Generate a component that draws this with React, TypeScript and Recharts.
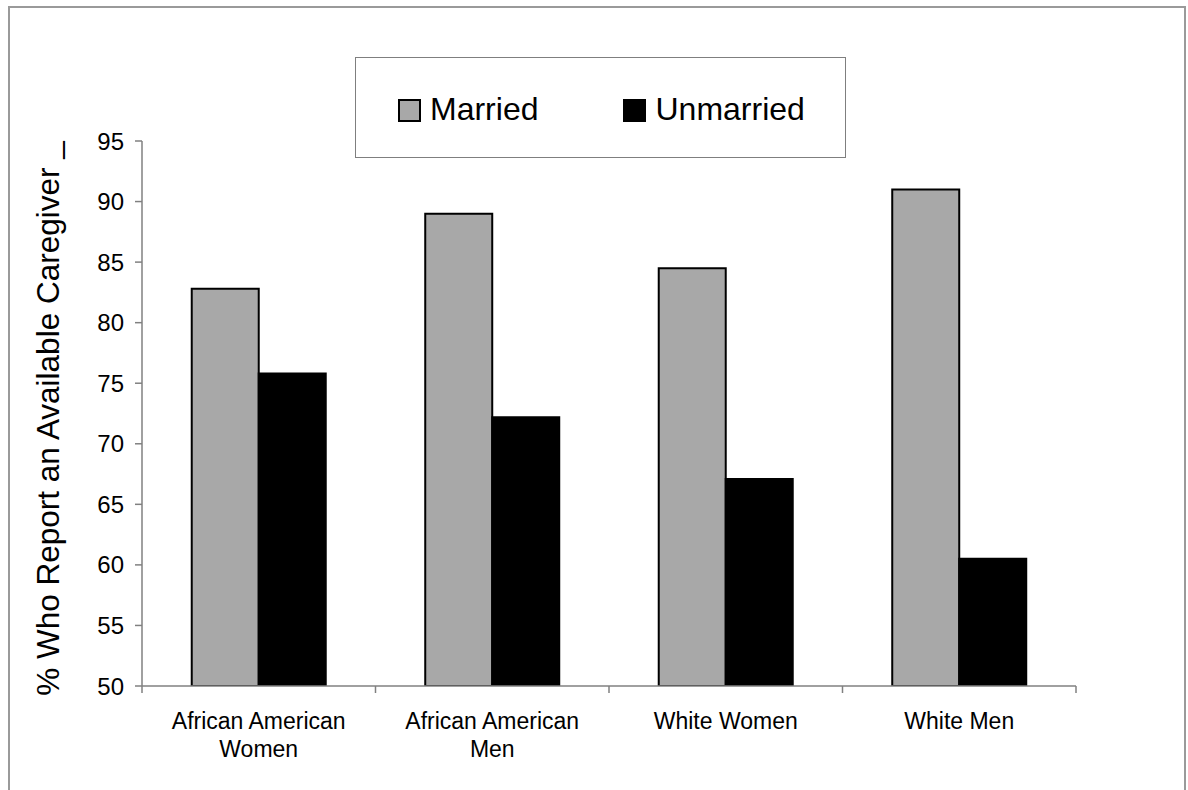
import { BarChart, Bar, XAxis, YAxis, Legend } from "recharts";

const CATEGORIES = ["African American\nWomen", "African American\nMen", "White Women", "White Men"];
const MARRIED = [82.8, 89.0, 84.5, 91.0];
const UNMARRIED = [75.8, 72.2, 67.1, 60.5];
const Y_TICKS = [50, 55, 60, 65, 70, 75, 80, 85, 90, 95];
const Y_LABEL = "% Who Report an Available Caregiver _";

const data = CATEGORIES.map((name, i) => ({ name, married: MARRIED[i], unmarried: UNMARRIED[i] }));

const FONT = '"Liberation Sans", Arial, Helvetica, sans-serif';
const AXIS_GRAY = "#808080";
const MARRIED_FILL = "#A8A8A8";

// category label plus tick marks on the group boundaries (Excel style)
function CategoryTick(props: any) {
  const { x, y, payload, index, width, visibleTicksCount } = props;
  const lines = String(payload.value).split("\n");
  const count = visibleTicksCount || CATEGORIES.length;
  const band = (width || 934) / count;
  const left = x - band / 2;
  const right = x + band / 2;
  return (
    <g>
      <line x1={left} x2={left} y1={y} y2={y + 7} stroke={AXIS_GRAY} strokeWidth={1.5} />
      {index === count - 1 && (
        <line x1={right} x2={right} y1={y} y2={y + 7} stroke={AXIS_GRAY} strokeWidth={1.5} />
      )}
      <text x={x} y={y + 43} textAnchor="middle" fontFamily={FONT} fontSize={23} fill="#000">
        {lines.map((l, i) => (
          <tspan key={i} x={x} dy={i === 0 ? 0 : 28}>
            {l}
          </tspan>
        ))}
      </text>
    </g>
  );
}

function YTitle(props: any) {
  const vb = props.viewBox || { x: 0, y: 141, width: 142, height: 545 };
  const cx = vb.x + 59;
  const cy = vb.y + vb.height / 2 + 5;
  return (
    <text
      x={cx}
      y={cy}
      textAnchor="middle"
      fontFamily={FONT}
      fontSize={31.5}
      fill="#000"
      transform={`rotate(-90, ${cx}, ${cy})`}
    >
      {Y_LABEL}
    </text>
  );
}

function LegendBox(props: any) {
  const items = props.payload || [];
  return (
    <div
      style={{
        boxSizing: "border-box",
        width: "100%",
        height: "100%",
        border: "1px solid #7f7f7f",
        background: "#fff",
        display: "flex",
        alignItems: "center",
        paddingLeft: 42,
        paddingTop: 2,
        fontFamily: FONT,
        fontSize: 32,
        color: "#000",
      }}
    >
      {items.map((it: any, i: number) => (
        <div key={i} style={{ display: "flex", alignItems: "center", marginRight: i === 0 ? 85 : 0 }}>
          <span
            style={{
              display: "inline-block",
              boxSizing: "border-box",
              width: 23,
              height: 23,
              background: it.color,
              border: "2px solid #000",
              marginRight: 9,
              marginTop: 3,
            }}
          />
          <span style={{ lineHeight: 1 }}>{it.value}</span>
        </div>
      ))}
    </div>
  );
}

export default function App() {
  return (
    <div
      style={{
        position: "absolute",
        left: 0,
        top: 0,
        width: 1188,
        height: 790,
        overflow: "hidden",
        background: "#fff",
      }}
    >
      <div
        style={{
          position: "absolute",
          left: 8,
          top: 6,
          width: 1178,
          height: 820,
          boxSizing: "border-box",
          border: "2px solid #9a9a9a",
        }}
      />
      <div style={{ position: "absolute", left: 0, top: 0 }}>
        <BarChart
          width={1188}
          height={790}
          data={data}
          margin={{ top: 141, right: 112, bottom: 103, left: 0 }}
          barCategoryGap="21.3%"
          barGap={0}
        >
          <XAxis
            dataKey="name"
            height={1}
            axisLine={{ stroke: AXIS_GRAY, strokeWidth: 1.5 }}
            tickLine={false}
            tickSize={0}
            tickMargin={0}
            interval={0}
            tick={<CategoryTick />}
          />
          <YAxis
            width={142}
            domain={[50, 95]}
            ticks={Y_TICKS}
            interval={0}
            allowDataOverflow
            tickSize={7}
            tickMargin={11}
            axisLine={{ stroke: AXIS_GRAY, strokeWidth: 1.5 }}
            tickLine={{ stroke: AXIS_GRAY, strokeWidth: 1.5 }}
            tick={{ fontFamily: FONT, fontSize: 24, fill: "#000" }}
            label={<YTitle />}
          />
          <Legend
            layout="horizontal"
            verticalAlign="middle"
            align="center"
            wrapperStyle={{ left: 355, top: 57, width: 491, height: 101 }}
            content={<LegendBox />}
          />
          <Bar
            dataKey="married"
            name="Married"
            fill={MARRIED_FILL}
            stroke="#000"
            strokeWidth={2}
            isAnimationActive={false}
          />
          <Bar
            dataKey="unmarried"
            name="Unmarried"
            fill="#000"
            stroke="#000"
            strokeWidth={2}
            isAnimationActive={false}
          />
        </BarChart>
      </div>
    </div>
  );
}
